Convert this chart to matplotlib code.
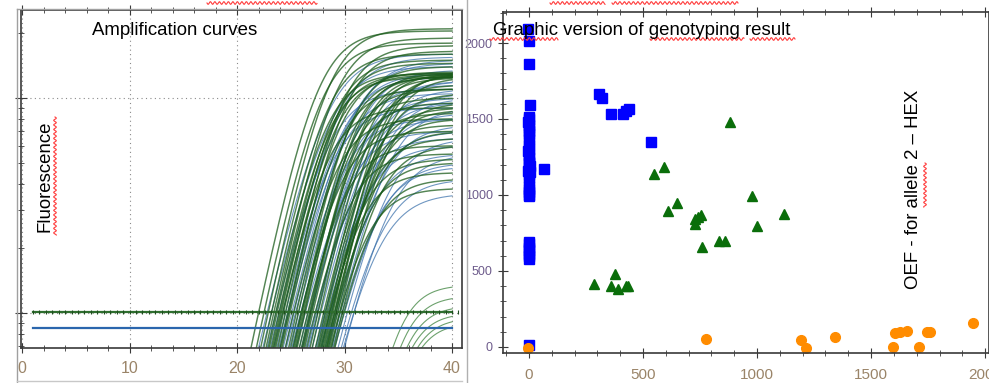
import numpy as np
import matplotlib
matplotlib.use('Agg')
import matplotlib.pyplot as plt
from matplotlib.ticker import MultipleLocator, LogLocator, NullFormatter

plt.rcParams['font.family'] = ['Liberation Sans', 'DejaVu Sans']

# ---- amplification curves (left panel) ----
# cycle where each curve leaves the bottom of the plot, and the plateau it reaches
green_cross = [21.3, 21.8, 22.2, 22.5, 22.7, 22.9, 23.0, 23.2, 23.3, 23.5, 23.6, 23.8, 24.0,
               24.2, 24.5, 24.8, 25.0, 25.2, 25.3, 25.5, 25.6, 25.8, 26.0, 26.1, 26.3, 26.5,
               26.8, 27.0, 27.3, 27.5, 27.6, 27.8, 27.9, 28.0, 28.1, 28.2, 28.3, 28.4, 28.5,
               28.6, 28.7, 28.8, 29.0, 29.1, 23.4, 25.4, 26.2, 27.7, 24.1, 28.35]
green_top = [20500, 18000, 21000, 16000, 13000, 19000, 12500, 15000, 13000, 9000, 12800, 17500,
             13200, 11000, 8000, 12500, 14000, 7000, 12600, 10000, 13000, 6000, 9500, 12800,
             8500, 5500, 13000, 11500, 7500, 12700, 9000, 4500, 12900, 6500, 10500, 13100,
             8000, 5000, 12500, 7000, 3800, 9500, 6000, 4200, 14500, 11000, 12400, 5200,
             16500, 8800]
blue_cross = [22.0, 22.4, 22.8, 23.1, 23.4, 23.7, 24.0, 24.3, 24.6, 24.9, 25.2, 25.5, 25.8,
              26.1, 26.4, 26.7, 27.0, 27.3, 27.6, 27.9, 28.2, 28.5, 28.8, 29.1, 29.4, 29.7,
              30.0, 23.9, 25.1, 26.6, 27.8, 28.9, 29.9, 24.5, 26.0, 27.4]
blue_top = [16000, 14000, 11000, 15500, 9000, 12500, 10500, 14500, 8000, 11500, 13500, 7000,
            10000, 12000, 6500, 9500, 11000, 6000, 8500, 10000, 5500, 7500, 9000, 5000, 6500,
            4200, 5500, 13000, 9500, 12000, 7000, 4800, 3600, 15000, 8000, 10500]
late_cross = [34.5, 35.2, 35.8, 36.3, 36.8, 37.2]
late_top = [1350, 1200, 1080, 1000, 950, 900]
green_threshold = 1010
blue_threshold = 851
floor_level = 690

# ---- genotyping scatter (right panel) ----
homo1_x = [-3, 2, 0, 3, -1, -5, -2, 1, 0, -3, 2, -1, 0, 3, -2, 1, 0, -1, 2, 0, 1,
           2, -2, 0, 1, -3, 3, -1, 0, 2, -2, 1, 0, -1, 2, 1, 0,
           65, 309, 322, 361, 413, 425, 439, 535, 0]
homo1_y = [2090, 2010, 1860, 1590, 1515, 1480, 1420, 1370, 1330, 1290, 1240, 1210, 1180, 1150,
           1110, 1060, 1000, 680, 650, 610, 580, 1040, 1020, 990, 1130, 1160, 1190, 1220, 1260,
           1300, 1400, 1440, 1460, 1500, 690, 640, 600,
           1170, 1665, 1635, 1530, 1530, 1550, 1565, 1350, 10]
hetero_x = [548, 591, 882, 978, 609, 648, 726, 730, 739, 752, 757, 835, 861, 1000, 1117,
            287, 361, 378, 391, 426, 435]
hetero_y = [1139, 1185, 1483, 994, 894, 947, 841, 808, 854, 867, 656, 695, 700, 795, 874,
            417, 404, 477, 384, 404, 404]
homo2_x = [-4, 774, 1191, 1213, 1343, 1596, 1604, 1626, 1657, 1709, 1743, 1757, 1948]
homo2_y = [-5, 53, 46, -5, 66, 0, 93, 100, 106, 2, 100, 100, 159]

tick_col_x = '#9a8468'
tick_col_y = '#6e5c8c'
spine_col = '#3a3a3a'
narrow = ['Liberation Sans Narrow', 'Liberation Sans']


def logistic(c, cross, top, slope):
    mid = cross + slope * np.log(top / floor_level - 1)
    return top / (1 + np.exp(-(c - mid) / slope))


fig = plt.figure(figsize=(9.89, 3.83), dpi=100)

# left panel
ax1 = fig.add_axes([21 / 989, 35 / 383, 441 / 989, 338 / 383])
cyc = np.linspace(1, 40, 300)
for c0, top in zip(blue_cross, blue_top):
    ax1.plot(cyc, logistic(cyc, c0, top, 2.0), color='#3f74ad', lw=0.8, alpha=0.75)
for c0, top in zip(green_cross, green_top):
    ax1.plot(cyc, logistic(cyc, c0, top, 1.8), color='#1b5c1b', lw=1.05, alpha=0.75)
for c0, top in zip(late_cross, late_top):
    ax1.plot(cyc, logistic(cyc, c0, top, 1.5), color='#2f7a2f', lw=0.8, alpha=0.7)
ax1.plot([1, 40], [green_threshold] * 2, color='#2e6e2e', lw=1.6)
marks = np.arange(1, 41, 0.6)
ax1.plot(marks, [green_threshold] * len(marks), ls='none',
         marker='|', ms=2.5, color='#1f4f1f', mew=0.8)
ax1.plot([1, 40], [blue_threshold] * 2, color='#2b66ad', lw=1.6)

ax1.set_yscale('log')
ax1.set_xlim(-0.1, 40.93)
ax1.set_ylim(687, 25650)
ax1.xaxis.set_major_locator(MultipleLocator(10))
ax1.xaxis.set_minor_locator(MultipleLocator(2))
ax1.yaxis.set_major_locator(LogLocator(base=10))
ax1.yaxis.set_minor_locator(LogLocator(base=10, subs=np.arange(2, 10)))
ax1.yaxis.set_major_formatter(NullFormatter())
ax1.yaxis.set_minor_formatter(NullFormatter())
ax1.grid(True, which='major', color='#8a8a8a', ls=(0, (1, 3)), lw=0.8)
ax1.tick_params(axis='x', which='both', direction='inout', top=True, colors=spine_col,
                labelcolor=tick_col_x, labelsize=11.5, pad=6)
ax1.tick_params(axis='x', which='major', length=7)
ax1.tick_params(axis='x', which='minor', length=4)
ax1.tick_params(axis='y', which='major', direction='inout', length=8, colors=spine_col)
ax1.tick_params(axis='y', which='minor', direction='inout', length=4, colors=spine_col)
for lab in ax1.get_xticklabels():
    lab.set_family(narrow)
for sp in ax1.spines.values():
    sp.set_color(spine_col)
    sp.set_linewidth(1.2)

# right panel
ax2 = fig.add_axes([503 / 989, 30 / 383, 486 / 989, 341 / 383])
ax2.plot(homo1_x, homo1_y, 's', color='#0000ff', ms=6.5)
ax2.plot(hetero_x, hetero_y, '^', color='#0a6e0a', ms=7)
ax2.plot(homo2_x, homo2_y, 'o', color='#ff8c00', ms=7)
ax2.set_xlim(-114, 2017)
ax2.set_ylim(-40, 2204)
ax2.xaxis.set_major_locator(MultipleLocator(500))
ax2.xaxis.set_minor_locator(MultipleLocator(100))
ax2.yaxis.set_major_locator(MultipleLocator(500))
ax2.yaxis.set_minor_locator(MultipleLocator(100))
ax2.tick_params(axis='x', which='both', direction='inout', top=True, colors=spine_col,
                labelcolor=tick_col_x, labelsize=11, pad=7)
ax2.tick_params(axis='y', which='both', direction='inout', colors=spine_col,
                labelcolor=tick_col_y, labelsize=9, pad=4)
ax2.tick_params(which='major', length=7)
ax2.tick_params(which='minor', length=4)
for lab in ax2.get_xticklabels() + ax2.get_yticklabels():
    lab.set_family(narrow)
for sp in ax2.spines.values():
    sp.set_color(spine_col)
    sp.set_linewidth(1.2)

# overlay in pixel coordinates for frames, titles and spell-check marks
ov = fig.add_axes([0, 0, 1, 1], zorder=10)
ov.set_xlim(0, 989)
ov.set_ylim(383, 0)
ov.axis('off')
ov.patch.set_alpha(0)

ov.plot([17, 17], [9, 383], color='#a0a0a0', lw=1)
ov.plot([17, 462], [9, 9], color='#a0a0a0', lw=1)
ov.plot([17, 462], [381, 381], color='#c8c8c8', lw=1)
ov.plot([467, 467], [0, 383], color='#b0b0b0', lw=1)

ov.text(92, 35, 'Amplification curves', fontsize=13.4, va='baseline', ha='left')
ov.text(493, 35, 'Graphic version of genotyping result', fontsize=13.4, va='baseline', ha='left')
ov.text(45, 176, 'Fluorescence', fontsize=13.4, rotation=90, ha='center', va='center')
ov.text(913, 189, 'OEF - for allele 2 \u2013 HEX', fontsize=13.4, rotation=90,
        ha='center', va='center')


def squiggle(a, b, pos, vertical=False):
    t = np.linspace(a, b, int(abs(b - a) * 3) + 2)
    w = pos + 1.3 * np.sin((t - a) * 2 * np.pi / 4.5)
    if vertical:
        ov.plot(w, t, color='#ff3b3b', lw=0.8)
    else:
        ov.plot(t, w, color='#ff3b3b', lw=0.8)


squiggle(117, 235, 55, vertical=True)
squiggle(490, 558, 39)
squiggle(650, 744, 39)
squiggle(750, 795, 39)
squiggle(163, 207, 925, vertical=True)
squiggle(207, 317, 3)
squiggle(550, 605, 3)
squiggle(612, 738, 3)

fig.savefig('out.png', dpi=100)
